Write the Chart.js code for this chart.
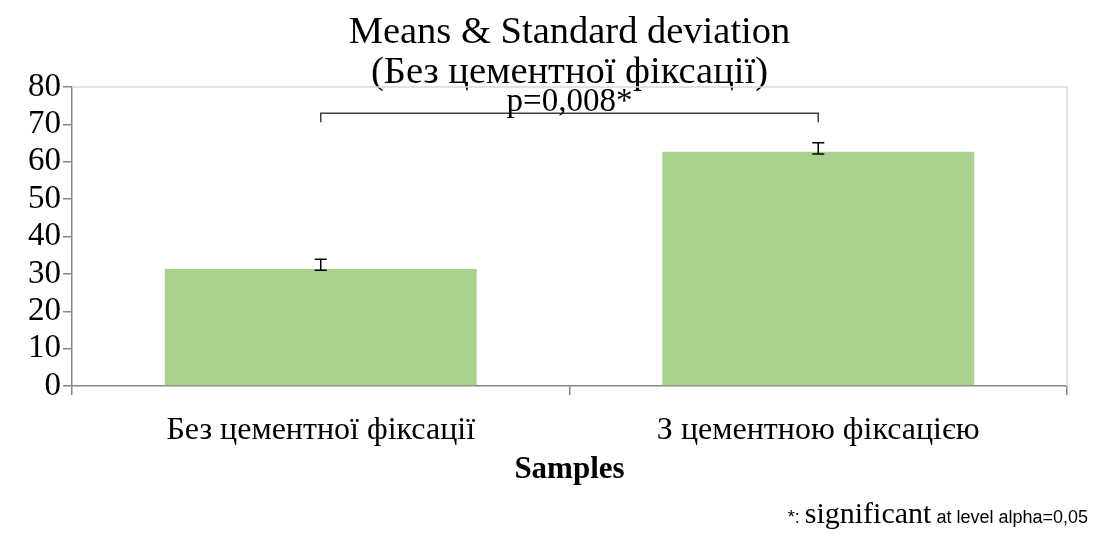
<!DOCTYPE html>
<html>
<head>
<meta charset="utf-8">
<script src="https://cdn.jsdelivr.net/npm/chart.js@4"></script>
<style>
  html, body { margin: 0; padding: 0; background: #fff; }
  #wrap { width: 1094px; height: 540px; position: relative; }
</style>
</head>
<body>
<div id="wrap"><canvas id="myChart"></canvas></div>
<script>
  // Dados do gráfico
  const categorias = ['Без цементної фіксації', 'З цементною фіксацією'];
  const medias = [31.3, 62.7];
  const erroInferior = [31.0, 62.1];
  const erroSuperior = [33.9, 65.1];
  const textoP = 'p=0,008*';
  const alturaColchete = 73;

  const serif = '"Liberation Serif", "Times New Roman", serif';
  const sans = '"Liberation Sans", Arial, sans-serif';

  // Plugin: borda superior/direita, barras de erro, colchete do p-valor e nota de rodapé
  const extrasPlugin = {
    id: 'extras',
    afterDatasetsDraw(chart) {
      const ctx = chart.ctx;
      const x = chart.scales.x;
      const y = chart.scales.y;
      const area = chart.chartArea;

      ctx.save();
      // borda clara em cima e à direita
      ctx.strokeStyle = '#d9d9d9';
      ctx.lineWidth = 1.5;
      ctx.beginPath();
      ctx.moveTo(area.left, area.top);
      ctx.lineTo(area.right, area.top);
      ctx.lineTo(area.right, area.bottom);
      ctx.stroke();

      // barras de erro
      ctx.strokeStyle = '#000';
      ctx.lineWidth = 1.5;
      medias.forEach((m, i) => {
        const cx = x.getPixelForValue(i);
        const yTop = y.getPixelForValue(erroSuperior[i]);
        const yBot = y.getPixelForValue(erroInferior[i]);
        ctx.beginPath();
        ctx.moveTo(cx, yTop); ctx.lineTo(cx, yBot);
        ctx.moveTo(cx - 6, yTop); ctx.lineTo(cx + 6, yTop);
        ctx.moveTo(cx - 6, yBot); ctx.lineTo(cx + 6, yBot);
        ctx.stroke();
      });

      // colchete de significância
      const x1 = x.getPixelForValue(0);
      const x2 = x.getPixelForValue(1);
      const yb = y.getPixelForValue(alturaColchete);
      ctx.strokeStyle = '#404040';
      ctx.lineWidth = 1.5;
      ctx.beginPath();
      ctx.moveTo(x1, yb + 9); ctx.lineTo(x1, yb); ctx.lineTo(x2, yb); ctx.lineTo(x2, yb + 9);
      ctx.stroke();
      ctx.fillStyle = '#000';
      ctx.font = '33px ' + serif;
      ctx.textAlign = 'center';
      ctx.textBaseline = 'alphabetic';
      ctx.fillText(textoP, (x1 + x2) / 2, yb - 2);

      // nota de rodapé
      let right = 1088;
      const base = 523;
      ctx.textAlign = 'right';
      ctx.font = '18px ' + sans;
      ctx.fillText(' at level alpha=0,05', right, base);
      right -= ctx.measureText(' at level alpha=0,05').width;
      ctx.font = '30px ' + serif;
      ctx.fillText('significant', right, base);
      right -= ctx.measureText('significant').width;
      ctx.font = '18px ' + sans;
      ctx.fillText('*: ', right, base);
      ctx.restore();
    }
  };

  new Chart(document.getElementById('myChart'), {
    type: 'bar',
    data: {
      labels: categorias,
      datasets: [{
        data: medias,
        backgroundColor: '#a9d18e',
        borderWidth: 0,
        categoryPercentage: 1,
        barPercentage: 0.627
      }]
    },
    options: {
      responsive: true,
      maintainAspectRatio: false,
      animation: false,
      layout: { padding: { left: 26, right: 27, top: 0, bottom: 47 } },
      plugins: {
        legend: { display: false },
        tooltip: { enabled: false },
        title: {
          display: true,
          fullSize: false,
          text: ['Means & Standard deviation', '(Без цементної фіксації)'],
          color: '#000',
          font: { family: serif, size: 38.5, weight: 'normal', lineHeight: 1.04 },
          padding: { top: 13, bottom: -6 }
        }
      },
      scales: {
        x: {
          afterFit(scale) { scale.height = 107; },
          grid: { offset: true, drawOnChartArea: false, tickLength: 9, color: '#868686', lineWidth: 1.5 },
          border: { color: '#868686', width: 1.5 },
          ticks: { color: '#000', font: { family: serif, size: 32 }, padding: 16 },
          title: { display: true, text: 'Samples', color: '#000', font: { family: serif, size: 31, weight: 'bold' }, padding: { top: 2, bottom: 4 } }
        },
        y: {
          min: 0,
          max: 80,
          afterFit(scale) { scale.width = 46; },
          ticks: { stepSize: 10, autoSkip: false, color: '#000', font: { family: serif, size: 33 }, padding: 2 },
          grid: { drawOnChartArea: false, tickLength: 9, color: '#868686', lineWidth: 1.5 },
          border: { color: '#868686', width: 1.5 }
        }
      }
    },
    plugins: [extrasPlugin]
  });
</script>
</body>
</html>
